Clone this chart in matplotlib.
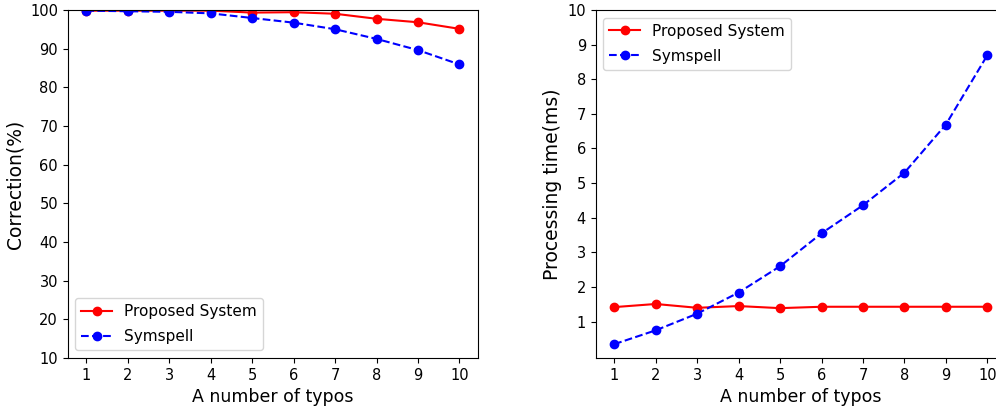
import matplotlib.pyplot as plt

typos = [1, 2, 3, 4, 5, 6, 7, 8, 9, 10]

# correction rate (%)
proposed_corr = [99.8, 99.8, 99.8, 99.8, 99.3, 99.4, 99.0, 97.7, 96.8, 95.1]
symspell_corr = [99.8, 99.65, 99.5, 99.1, 97.9, 96.7, 95.0, 92.5, 89.6, 85.9]

# processing time (ms)
proposed_time = [1.42, 1.51, 1.40, 1.45, 1.39, 1.43, 1.43, 1.43, 1.43, 1.43]
symspell_time = [0.35, 0.75, 1.23, 1.84, 2.60, 3.55, 4.36, 5.30, 6.69, 8.69]

fig = plt.figure(figsize=(9.96, 4.12), dpi=100)
ax1 = fig.add_axes([0.068, 0.131, 0.412, 0.845])
ax2 = fig.add_axes([0.598, 0.131, 0.412, 0.845])

ax1.plot(typos, proposed_corr, "r-o", lw=1.5, ms=6, label="Proposed System")
ax1.plot(typos, symspell_corr, "b--o", lw=1.5, ms=6, label="Symspell")
ax1.set_ylim(10, 100)
ax1.set_yticks(range(10, 101, 10))
ax1.set_xticks(typos)
ax1.set_xlabel("A number of typos", fontsize=12.5)
ax1.set_ylabel("Correction(%)", fontsize=13.5)
ax1.tick_params(labelsize=10.5)
ax1.legend(loc="lower left", fontsize=11, labelspacing=0.65)

ax2.plot(typos, proposed_time, "r-o", lw=1.5, ms=6, label="Proposed System")
ax2.plot(typos, symspell_time, "b--o", lw=1.5, ms=6, label="Symspell")
ax2.set_ylim(-0.05, 10)
ax2.set_yticks(range(1, 11))
ax2.set_xticks(typos)
ax2.set_xlabel("A number of typos", fontsize=12.5)
ax2.set_ylabel("Processing time(ms)", fontsize=13.5)
ax2.tick_params(labelsize=10.5)
ax2.legend(loc="upper left", fontsize=11, labelspacing=0.65)

fig.savefig("out.png", dpi=100)
